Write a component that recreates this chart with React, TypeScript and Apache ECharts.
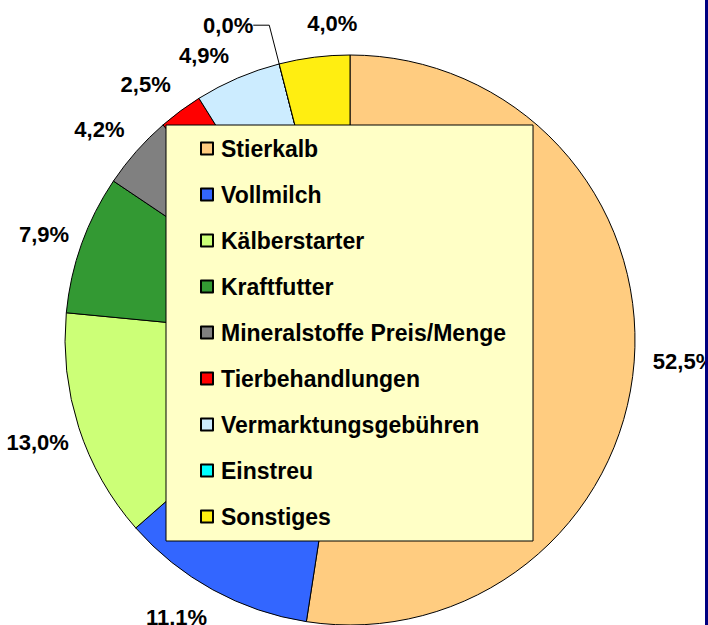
import React, { useEffect, useRef } from "react";
import * as echarts from "echarts";

const categories = [
  "Stierkalb",
  "Vollmilch",
  "Kälberstarter",
  "Kraftfutter",
  "Mineralstoffe Preis/Menge",
  "Tierbehandlungen",
  "Vermarktungsgebühren",
  "Einstreu",
  "Sonstiges",
];
const shares = [52.5, 11.1, 13.0, 7.9, 4.2, 2.5, 4.9, 0.0, 4.0];
const colors = [
  "#FFCC80",
  "#3366FF",
  "#CCFF77",
  "#339933",
  "#808080",
  "#FF0000",
  "#CCECFF",
  "#00FFFF",
  "#FFEE11",
];
// small nudges of the percentage labels (Excel-style placement)
const labelOffsets: [number, number][] = [
  [10, -3],
  [-17, -7],
  [-3, 3],
  [0, 4],
  [-7, 5],
  [-11, 6],
  [-18, 14],
  [0, 0],
  [23, 6],
];

const FONT = "'Liberation Sans', Arial, sans-serif";
const fmt = (v: number) => v.toFixed(1).replace(".", ",") + "%";

export default function App() {
  const ref = useRef<HTMLDivElement>(null);
  useEffect(() => {
    if (!ref.current) return;
    const chart = echarts.init(ref.current, null, { renderer: "svg" });
    const labelStyle = {
      fontFamily: FONT,
      fontWeight: "bold" as const,
      fontSize: 22,
      color: "#000",
    };
    chart.setOption({
      animation: false,
      backgroundColor: "#fff",
      legend: {
        orient: "vertical",
        left: 166,
        top: 125,
        data: categories,
        icon: "rect",
        itemWidth: 12,
        itemHeight: 12,
        itemGap: 23,
        padding: [12, 27, 13, 34],
        backgroundColor: "#FFFFC6",
        borderColor: "#000",
        borderWidth: 1,
        selectedMode: false,
        textStyle: {
          fontFamily: FONT,
          fontWeight: "bold",
          fontSize: 23,
          lineHeight: 23,
          color: "#000",
          padding: [0, 0, 0, 3],
        },
        z: 10,
      },
      series: [
        {
          type: "pie",
          center: [350, 340],
          radius: 285,
          startAngle: 90,
          clockwise: true,
          avoidLabelOverlap: false,
          minShowLabelAngle: 0,
          itemStyle: { borderColor: "#000", borderWidth: 1 },
          emphasis: { disabled: true },
          data: categories.map((name, i) => ({
            name,
            value: shares[i],
            itemStyle: { color: colors[i] },
            label:
              shares[i] === 0
                ? {
                    show: true,
                    position: "outside",
                    formatter: (p: any) => fmt(p.value),
                    distanceToLabelLine: 0,
                    ...labelStyle,
                  }
                : { show: false },
            labelLine:
              shares[i] === 0
                ? {
                    show: true,
                    length: 40,
                    length2: 16,
                    lineStyle: { color: "#000", width: 1 },
                  }
                : { show: false },
          })),
        },
        {
          type: "pie",
          center: [350, 340],
          radius: [299, 345],
          startAngle: 90,
          clockwise: true,
          silent: true,
          avoidLabelOverlap: false,
          minShowLabelAngle: 0,
          labelLayout: { hideOverlap: false },
          itemStyle: { color: "rgba(0,0,0,0)", borderWidth: 0 },
          labelLine: { show: false },
          emphasis: { disabled: true },
          data: categories.map((name, i) => ({
            name,
            value: shares[i],
            label: {
              show: shares[i] !== 0,
              position: "inside",
              rotate: 0,
              offset: labelOffsets[i],
              formatter: (p: any) => fmt(p.value),
              ...labelStyle,
            },
          })),
        },
      ],
      graphic: [
        {
          type: "rect",
          shape: { x: 705, y: 0, width: 3, height: 625 },
          style: { fill: "#000080" },
          z: 100,
        },
      ],
    });
    return () => chart.dispose();
  }, []);
  return (
    <div
      ref={ref}
      style={{ position: "absolute", left: 0, top: 0, width: 708, height: 625 }}
    />
  );
}
